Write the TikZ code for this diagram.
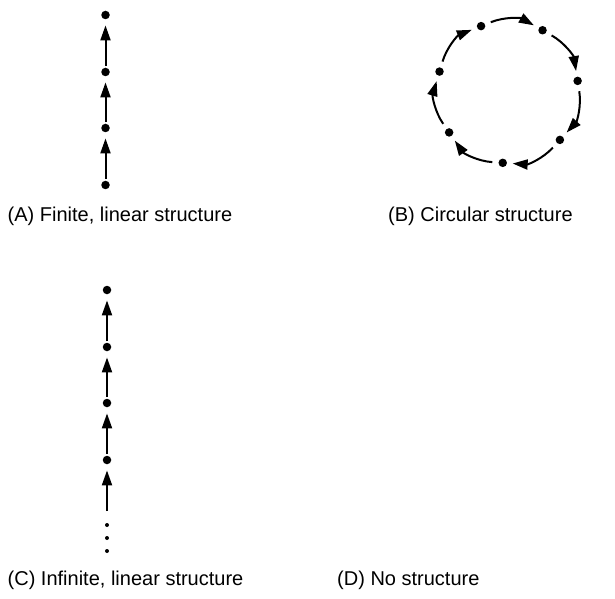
\documentclass[tikz,border=0pt]{standalone}
\usepackage{fontspec}
\setmainfont{Liberation Sans}
\usetikzlibrary{arrows.meta,calc}
\begin{document}
\begin{tikzpicture}[x=1pt,y=1pt,
  dot/.style={circle,fill=black,inner sep=0pt,minimum size=8.5pt},
  smalldot/.style={circle,fill=black,inner sep=0pt,minimum size=4pt},
  arr/.style={line width=2pt,-{Triangle[length=15pt,width=10pt]},shorten >=6pt,shorten <=1.5pt},
  carr/.style={line width=2pt,-{Triangle[length=15pt,width=10pt]},shorten >=5.5pt,shorten <=6pt},
  lbl/.style={anchor=base west,inner sep=0pt,font=\fontsize{20}{24}\selectfont}]
\useasboundingbox (0,0) rectangle (615,598);
% (A) finite linear
\node[dot] (a1) at (105.5,583) {};
\node[dot] (a2) at (105.5,526) {};
\node[dot] (a3) at (105.5,470) {};
\node[dot] (a4) at (105.5,413) {};
\draw[arr] (a2) -- (a1);
\draw[arr] (a3) -- (a2);
\draw[arr] (a4) -- (a3);
\node[lbl] (la) at (7.5,377) {(A) Finite, linear structure};
% (B) circular
\coordinate (c) at (507.5,506);
\foreach \i in {0,...,6} {
  \node[dot] (b\i) at ([shift={({9-51.4286*\i}:71)}]c) {};
}
\foreach \i/\j in {0/1,1/2,2/3,3/4,4/5,5/6,6/0} {
  \draw[carr] (b\i) to[bend left=25.7] (b\j);
}
\node[lbl] (lb) at (388,377) {(B) Circular structure};
% (C) infinite linear
\node[dot] (c1) at (107,308) {};
\node[dot] (c2) at (107,251) {};
\node[dot] (c3) at (107,195) {};
\node[dot] (c4) at (107,138) {};
\coordinate (ct) at (107,87);
\draw[arr] (c2) -- (c1);
\draw[arr] (c3) -- (c2);
\draw[arr] (c4) -- (c3);
\draw[arr,shorten <=0pt] (ct) -- (c4);
\node[smalldot] (d1) at (107,73) {};
\node[smalldot] (d2) at (107,60) {};
\node[smalldot] (d3) at (107,47) {};
\node[lbl] (lc) at (7.5,13) {(C) Infinite, linear structure};
% (D)
\node[lbl] (ld) at (337,13) {(D) No structure};
\end{tikzpicture}
\end{document}
